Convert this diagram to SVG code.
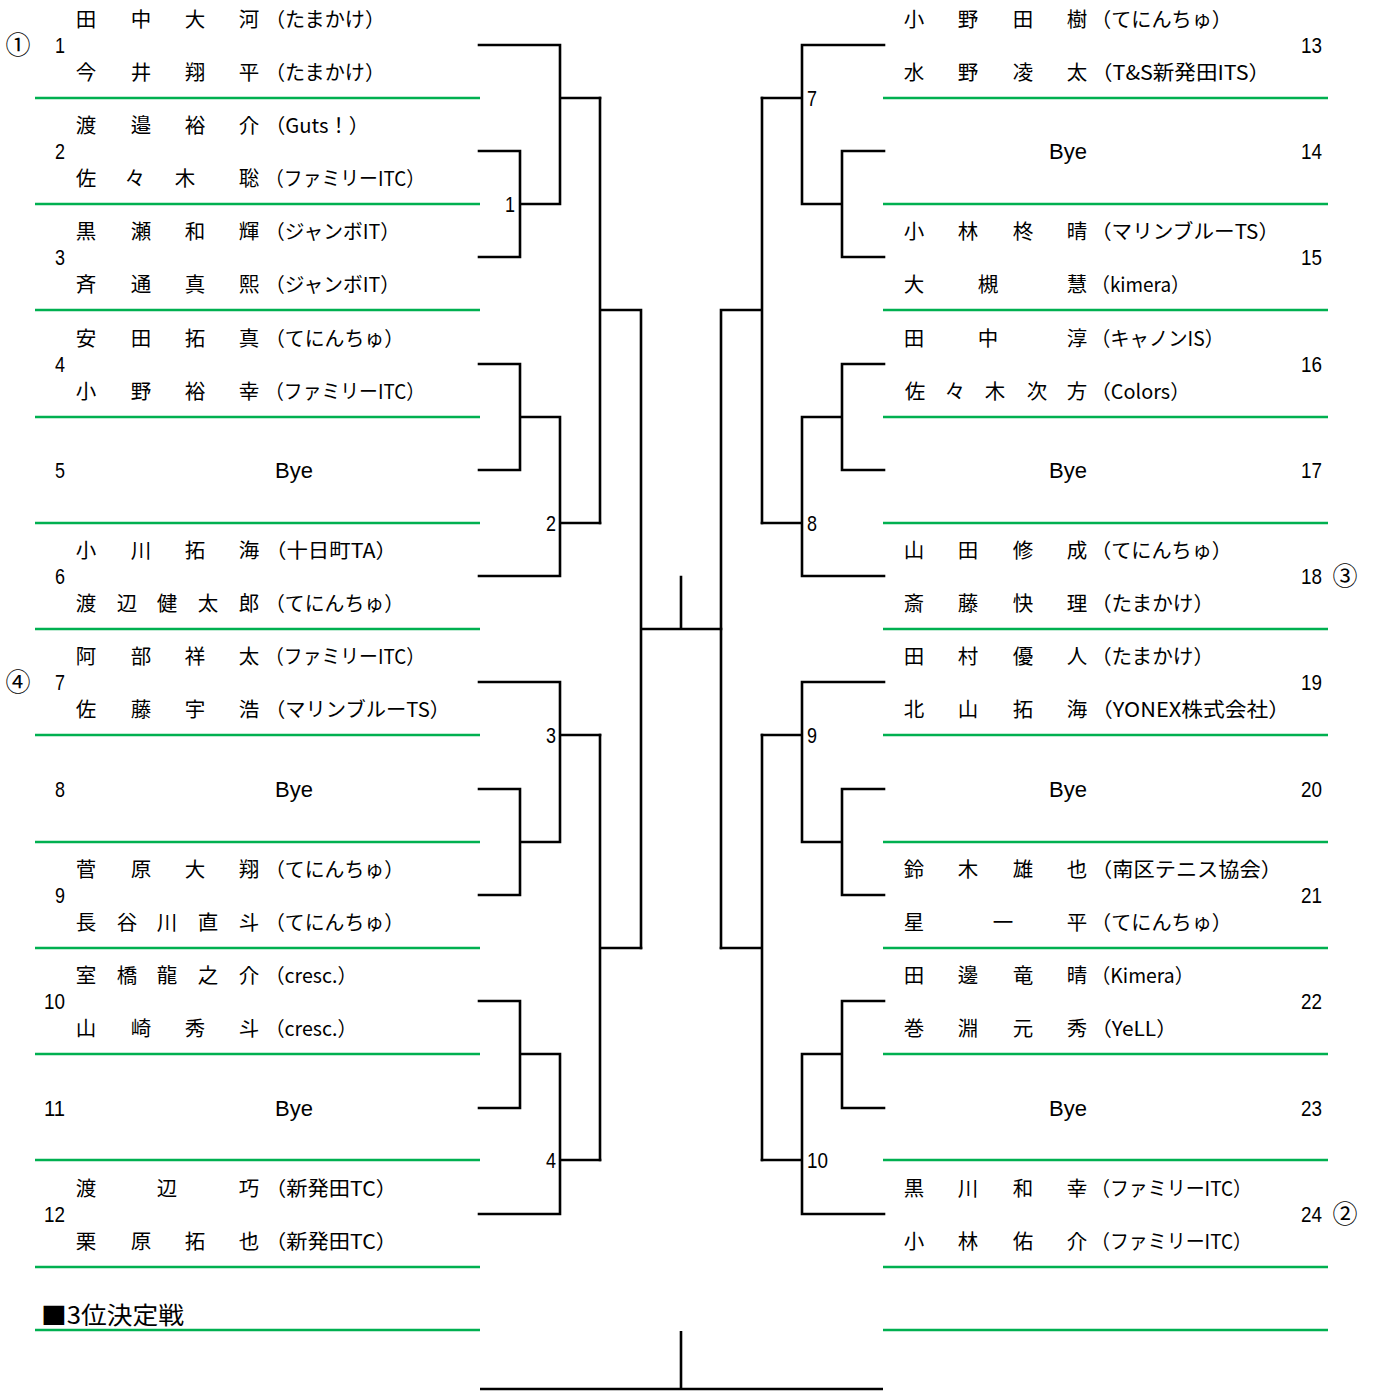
<svg xmlns="http://www.w3.org/2000/svg" width="1375" height="1391" viewBox="0 0 1375 1391">
<style>
.g{stroke:#00B050;stroke-width:2.6;fill:none}
.b{fill:none;stroke:#000;stroke-width:2.6;stroke-linejoin:miter;stroke-linecap:square}
.nm{font-family:"Noto Sans CJK JP","Noto Sans CJK SC",sans-serif;font-size:20.5px;text-anchor:middle;fill:#000}
.og{font-family:"Noto Sans CJK JP","Noto Sans CJK SC",sans-serif;font-size:20px;fill:#000}
.num{font-family:"Liberation Sans Narrow","Liberation Sans",sans-serif;font-size:22px;fill:#000}
.nl{text-anchor:end}
.bye{font-family:"Liberation Sans",sans-serif;font-size:22px;text-anchor:middle;fill:#000}
.cir{font-family:"Noto Sans CJK JP",sans-serif;font-size:25px;text-anchor:middle;fill:#000}
.ttl{font-family:"Noto Sans CJK JP",sans-serif;font-size:24px;fill:#000}
</style>
<rect width="1375" height="1391" fill="#fff"/>
<g id="separators">
<path class="g" d="M35,98H480M35,204H480M35,310H480M35,417H480M35,523H480M35,629H480M35,735H480M35,842H480M35,948H480M35,1054H480M35,1160H480M35,1267H480M35,1330H480"/>
<path class="g" d="M883,98H1328M883,204H1328M883,310H1328M883,417H1328M883,523H1328M883,629H1328M883,735H1328M883,842H1328M883,948H1328M883,1054H1328M883,1160H1328M883,1267H1328M883,1330H1328"/>
</g>
<g id="connectors">
<path class="b" d="M479,45H560V204M479,151H520V257H479M520,204H560M560,98H600"/>
<path class="b" d="M479,364H520V470H479M520,417H560M479,576H560V417M560,523H600"/>
<path class="b" d="M600,98V523M600,310H641M641,310V948M641,629H721M681,577V629"/>
<path class="b" d="M479,682H560V842M479,789H520V895H479M520,842H560M560,735H600"/>
<path class="b" d="M479,1001H520V1108H479M520,1054H560M479,1214H560V1054M560,1160H600"/>
<path class="b" d="M600,735V1160M600,948H641"/>
<path class="b" d="M884,45H802V204M884,151H842V257H884M842,204H802M802,98H762"/>
<path class="b" d="M884,364H842V470H884M842,417H802M884,576H802V417M802,523H762"/>
<path class="b" d="M762,98V523M762,310H721M721,310V948"/>
<path class="b" d="M884,682H802V842M884,789H842V895H884M842,842H802M802,735H762"/>
<path class="b" d="M884,1001H842V1108H884M842,1054H802M884,1214H802V1054M802,1160H762"/>
<path class="b" d="M762,735V1160M762,948H721"/>
<path class="b" d="M681,1331V1389M480,1389H883" style="stroke-linecap:butt"/>
<text class="num nl" x="515" y="212" textLength="10" lengthAdjust="spacingAndGlyphs">1</text>
<text class="num nl" x="556" y="531" textLength="10" lengthAdjust="spacingAndGlyphs">2</text>
<text class="num nl" x="556" y="743" textLength="10" lengthAdjust="spacingAndGlyphs">3</text>
<text class="num nl" x="556" y="1168" textLength="10" lengthAdjust="spacingAndGlyphs">4</text>
<text class="num" x="807" y="106" textLength="10" lengthAdjust="spacingAndGlyphs">7</text>
<text class="num" x="807" y="531" textLength="10" lengthAdjust="spacingAndGlyphs">8</text>
<text class="num" x="807" y="743" textLength="10" lengthAdjust="spacingAndGlyphs">9</text>
<text class="num" x="807" y="1168" textLength="21" lengthAdjust="spacingAndGlyphs">10</text>
</g>
<g id="entry1">
<text class="cir" x="18" y="54">①</text>
<text class="num nl" x="65" y="53" textLength="10" lengthAdjust="spacingAndGlyphs">1</text>
<text class="nm" x="86 141 195 249" y="27">田中大河</text><text class="og" x="265" y="27" textLength="120" lengthAdjust="spacingAndGlyphs">（たまかけ）</text>
<text class="nm" x="86 141 195 249" y="80">今井翔平</text><text class="og" x="265" y="80" textLength="120" lengthAdjust="spacingAndGlyphs">（たまかけ）</text>
</g>
<g id="entry2">
<text class="num nl" x="65" y="159" textLength="10" lengthAdjust="spacingAndGlyphs">2</text>
<text class="nm" x="86 141 195 249" y="133">渡邉裕介</text><text class="og" x="265" y="133" textLength="104" lengthAdjust="spacingAndGlyphs">（Guts！）</text>
<text class="nm" x="86 135 185 249" y="186">佐々木聡</text><text class="og" x="265" y="186" textLength="160" lengthAdjust="spacingAndGlyphs">（ファミリーITC）</text>
</g>
<g id="entry3">
<text class="num nl" x="65" y="265" textLength="10" lengthAdjust="spacingAndGlyphs">3</text>
<text class="nm" x="86 141 195 249" y="239">黒瀬和輝</text><text class="og" x="265" y="239" textLength="135" lengthAdjust="spacingAndGlyphs">（ジャンボIT）</text>
<text class="nm" x="86 141 195 249" y="292">斉通真熙</text><text class="og" x="265" y="292" textLength="135" lengthAdjust="spacingAndGlyphs">（ジャンボIT）</text>
</g>
<g id="entry4">
<text class="num nl" x="65" y="372" textLength="10" lengthAdjust="spacingAndGlyphs">4</text>
<text class="nm" x="86 141 195 249" y="346">安田拓真</text><text class="og" x="265" y="346" textLength="139" lengthAdjust="spacingAndGlyphs">（てにんちゅ）</text>
<text class="nm" x="86 141 195 249" y="399">小野裕幸</text><text class="og" x="265" y="399" textLength="160" lengthAdjust="spacingAndGlyphs">（ファミリーITC）</text>
</g>
<g id="entry5">
<text class="num nl" x="65" y="478" textLength="10" lengthAdjust="spacingAndGlyphs">5</text>
<text class="bye" x="294" y="478">Bye</text>
</g>
<g id="entry6">
<text class="num nl" x="65" y="584" textLength="10" lengthAdjust="spacingAndGlyphs">6</text>
<text class="nm" x="86 141 195 249" y="558">小川拓海</text><text class="og" x="265" y="558" textLength="132" lengthAdjust="spacingAndGlyphs">（十日町TA）</text>
<text class="nm" x="86 127 167 208 249" y="611">渡辺健太郎</text><text class="og" x="265" y="611" textLength="139" lengthAdjust="spacingAndGlyphs">（てにんちゅ）</text>
</g>
<g id="entry7">
<text class="cir" x="18" y="691">④</text>
<text class="num nl" x="65" y="690" textLength="10" lengthAdjust="spacingAndGlyphs">7</text>
<text class="nm" x="86 141 195 249" y="664">阿部祥太</text><text class="og" x="265" y="664" textLength="160" lengthAdjust="spacingAndGlyphs">（ファミリーITC）</text>
<text class="nm" x="86 141 195 249" y="717">佐藤宇浩</text><text class="og" x="265" y="717" textLength="185" lengthAdjust="spacingAndGlyphs">（マリンブルーTS）</text>
</g>
<g id="entry8">
<text class="num nl" x="65" y="797" textLength="10" lengthAdjust="spacingAndGlyphs">8</text>
<text class="bye" x="294" y="797">Bye</text>
</g>
<g id="entry9">
<text class="num nl" x="65" y="903" textLength="10" lengthAdjust="spacingAndGlyphs">9</text>
<text class="nm" x="86 141 195 249" y="877">菅原大翔</text><text class="og" x="265" y="877" textLength="139" lengthAdjust="spacingAndGlyphs">（てにんちゅ）</text>
<text class="nm" x="86 127 167 208 249" y="930">長谷川直斗</text><text class="og" x="265" y="930" textLength="139" lengthAdjust="spacingAndGlyphs">（てにんちゅ）</text>
</g>
<g id="entry10">
<text class="num nl" x="65" y="1009" textLength="21" lengthAdjust="spacingAndGlyphs">10</text>
<text class="nm" x="86 127 167 208 249" y="983">室橋龍之介</text><text class="og" x="265" y="983" textLength="92" lengthAdjust="spacingAndGlyphs">（cresc.）</text>
<text class="nm" x="86 141 195 249" y="1036">山崎秀斗</text><text class="og" x="265" y="1036" textLength="92" lengthAdjust="spacingAndGlyphs">（cresc.）</text>
</g>
<g id="entry11">
<text class="num nl" x="65" y="1116" textLength="21" lengthAdjust="spacingAndGlyphs">11</text>
<text class="bye" x="294" y="1116">Bye</text>
</g>
<g id="entry12">
<text class="num nl" x="65" y="1222" textLength="21" lengthAdjust="spacingAndGlyphs">12</text>
<text class="nm" x="86 167 249" y="1196">渡辺巧</text><text class="og" x="265" y="1196" textLength="132" lengthAdjust="spacingAndGlyphs">（新発田TC）</text>
<text class="nm" x="86 141 195 249" y="1249">栗原拓也</text><text class="og" x="265" y="1249" textLength="132" lengthAdjust="spacingAndGlyphs">（新発田TC）</text>
</g>
<g id="entry13">
<text class="num" x="1301" y="53" textLength="21" lengthAdjust="spacingAndGlyphs">13</text>
<text class="nm" x="914 968 1023 1077" y="27">小野田樹</text><text class="og" x="1091" y="27" textLength="141" lengthAdjust="spacingAndGlyphs">（てにんちゅ）</text>
<text class="nm" x="914 968 1023 1077" y="80">水野凌太</text><text class="og" x="1091" y="80" textLength="179" lengthAdjust="spacingAndGlyphs">（T&amp;S新発田ITS）</text>
</g>
<g id="entry14">
<text class="num" x="1301" y="159" textLength="21" lengthAdjust="spacingAndGlyphs">14</text>
<text class="bye" x="1068" y="159">Bye</text>
</g>
<g id="entry15">
<text class="num" x="1301" y="265" textLength="21" lengthAdjust="spacingAndGlyphs">15</text>
<text class="nm" x="914 968 1023 1077" y="239">小林柊晴</text><text class="og" x="1091" y="239" textLength="188" lengthAdjust="spacingAndGlyphs">（マリンブルーTS）</text>
<text class="nm" x="914 988 1077" y="292">大槻慧</text><text class="og" x="1091" y="292" textLength="99" lengthAdjust="spacingAndGlyphs">（kimera）</text>
</g>
<g id="entry16">
<text class="num" x="1301" y="372" textLength="21" lengthAdjust="spacingAndGlyphs">16</text>
<text class="nm" x="914 988 1077" y="346">田中淳</text><text class="og" x="1091" y="346" textLength="133" lengthAdjust="spacingAndGlyphs">（キャノンIS）</text>
<text class="nm" x="915 955 995 1037 1077" y="399">佐々木次方</text><text class="og" x="1091" y="399" textLength="99" lengthAdjust="spacingAndGlyphs">（Colors）</text>
</g>
<g id="entry17">
<text class="num" x="1301" y="478" textLength="21" lengthAdjust="spacingAndGlyphs">17</text>
<text class="bye" x="1068" y="478">Bye</text>
</g>
<g id="entry18">
<text class="num" x="1301" y="584" textLength="21" lengthAdjust="spacingAndGlyphs">18</text>
<text class="cir" x="1345" y="585">③</text>
<text class="nm" x="914 968 1023 1077" y="558">山田修成</text><text class="og" x="1091" y="558" textLength="141" lengthAdjust="spacingAndGlyphs">（てにんちゅ）</text>
<text class="nm" x="914 968 1023 1077" y="611">斎藤快理</text><text class="og" x="1091" y="611" textLength="123" lengthAdjust="spacingAndGlyphs">（たまかけ）</text>
</g>
<g id="entry19">
<text class="num" x="1301" y="690" textLength="21" lengthAdjust="spacingAndGlyphs">19</text>
<text class="nm" x="914 968 1023 1077" y="664">田村優人</text><text class="og" x="1091" y="664" textLength="123" lengthAdjust="spacingAndGlyphs">（たまかけ）</text>
<text class="nm" x="914 968 1023 1077" y="717">北山拓海</text><text class="og" x="1091" y="717" textLength="199" lengthAdjust="spacingAndGlyphs">（YONEX株式会社）</text>
</g>
<g id="entry20">
<text class="num" x="1301" y="797" textLength="21" lengthAdjust="spacingAndGlyphs">20</text>
<text class="bye" x="1068" y="797">Bye</text>
</g>
<g id="entry21">
<text class="num" x="1301" y="903" textLength="21" lengthAdjust="spacingAndGlyphs">21</text>
<text class="nm" x="914 968 1023 1077" y="877">鈴木雄也</text><text class="og" x="1091" y="877" textLength="191" lengthAdjust="spacingAndGlyphs">（南区テニス協会）</text>
<text class="nm" x="914 1003 1077" y="930">星一平</text><text class="og" x="1091" y="930" textLength="141" lengthAdjust="spacingAndGlyphs">（てにんちゅ）</text>
</g>
<g id="entry22">
<text class="num" x="1301" y="1009" textLength="21" lengthAdjust="spacingAndGlyphs">22</text>
<text class="nm" x="914 968 1023 1077" y="983">田邊竜晴</text><text class="og" x="1091" y="983" textLength="103" lengthAdjust="spacingAndGlyphs">（Kimera）</text>
<text class="nm" x="914 968 1023 1077" y="1036">巻淵元秀</text><text class="og" x="1091" y="1036" textLength="86" lengthAdjust="spacingAndGlyphs">（YeLL）</text>
</g>
<g id="entry23">
<text class="num" x="1301" y="1116" textLength="21" lengthAdjust="spacingAndGlyphs">23</text>
<text class="bye" x="1068" y="1116">Bye</text>
</g>
<g id="entry24">
<text class="num" x="1301" y="1222" textLength="21" lengthAdjust="spacingAndGlyphs">24</text>
<text class="cir" x="1345" y="1223">②</text>
<text class="nm" x="914 968 1023 1077" y="1196">黒川和幸</text><text class="og" x="1091" y="1196" textLength="161" lengthAdjust="spacingAndGlyphs">（ファミリーITC）</text>
<text class="nm" x="914 968 1023 1077" y="1249">小林佑介</text><text class="og" x="1091" y="1249" textLength="161" lengthAdjust="spacingAndGlyphs">（ファミリーITC）</text>
</g>
<g id="third-place">
<text class="ttl" x="41" y="1324" textLength="143" lengthAdjust="spacingAndGlyphs">■3位決定戦</text>
</g>
</svg>
